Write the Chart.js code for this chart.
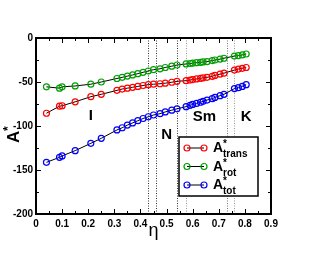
<!DOCTYPE html>
<html>
<head>
<meta charset="utf-8">
<script src="https://cdn.jsdelivr.net/npm/chart.js@4.4.1/dist/chart.umd.min.js"></script>
<style>
  html, body { margin: 0; padding: 0; background: #fff; }
  #chart { display: block; }
</style>
</head>
<body>
<canvas id="chart" width="315" height="254"></canvas>
<script>
// packing fraction eta, shared by all three series
const etaValues = [0.04, 0.09, 0.10, 0.15, 0.21, 0.25, 0.31, 0.33, 0.35, 0.37, 0.39, 0.41, 0.43, 0.45,
    0.475, 0.495, 0.52, 0.54, 0.575, 0.59, 0.60, 0.615, 0.63, 0.64, 0.655, 0.675, 0.685, 0.705, 0.72,
    0.76, 0.775, 0.79, 0.805];

const transValues = [-85.5, -77.5, -77, -72.5, -66.7, -64, -59.5, -58, -57, -56, -55, -54, -53, -52.5,
    -52, -51.3, -50.3, -49.2, -48.5, -47.8, -47.2, -46.5, -45.8, -45.2, -44.7, -43.5, -42.5, -41, -40,
    -36.4, -35.3, -34.5, -33.5];

const rotValues = [-55.5, -57, -55.5, -54.5, -52.5, -50, -46, -44.7, -43.3, -42, -40.5, -39, -37.5, -36,
    -35, -33.5, -32, -30.7, -29.5, -29, -28.5, -28, -27.6, -27.2, -26.9, -25.6, -25, -24, -23,
    -20.5, -20, -19.2, -18.2];

const totValues = [-141.3, -135.6, -134, -128, -119.7, -114, -104.5, -102, -99, -96.5, -94, -91.5, -89.5, -87.5,
    -86, -84, -82, -80.5, -78, -76.5, -75.5, -74.3, -73, -72, -70.5, -69, -67.5, -65.5, -64,
    -57.5, -56.5, -55, -53];

const seriesSubs = ['trans', 'rot', 'tot'];
const seriesColors = ['#ff0000', '#00a000', '#0000ff'];

// phase boundaries and phase names
const phaseLines = [0.43, 0.46, 0.54, 0.575, 0.73, 0.76];
const phaseNames = ['I', 'N', 'Sm', 'K'];

const xTickLabels = ['0', '0.1', '0.2', '0.3', '0.4', '0.5', '0.6', '0.7', '0.8', '0.9'];
const yTickLabels = ['-200', '-150', '-100', '-50', '0'];

const FONT = "'Liberation Sans', Arial, sans-serif";

// where the phase names sit (data coords)
const phaseLabelPos = [[0.21, -89], [0.50, -110], [0.645, -90], [0.805, -90]];
const lineShades = ['#333', '#333', '#333', '#999', '#777', '#999'];

function makeSet(values, i) {
    return {
        label: seriesSubs[i],
        data: etaValues.map((x, k) => ({ x: x, y: values[k] })),
        borderColor: '#000',
        borderWidth: 1,
        pointRadius: 3,
        pointBorderWidth: 1.2,
        pointBorderColor: seriesColors[i],
        pointBackgroundColor: 'rgba(0,0,0,0)',
        tension: 0
    };
}

const decorPlugin = {
    id: 'decor',
    beforeDatasetsDraw(chart) {
        const ctx = chart.ctx;
        const xs = chart.scales.x;
        const a = chart.chartArea;
        ctx.save();
        ctx.lineWidth = 1;
        ctx.setLineDash([1, 1.5]);
        phaseLines.forEach((v, i) => {
            const px = Math.round(xs.getPixelForValue(v)) + 0.5;
            ctx.strokeStyle = lineShades[i];
            ctx.beginPath();
            ctx.moveTo(px, a.top);
            ctx.lineTo(px, a.bottom);
            ctx.stroke();
        });
        ctx.restore();
    },
    afterDraw(chart) {
        const ctx = chart.ctx;
        const xs = chart.scales.x;
        const ys = chart.scales.y;
        const a = chart.chartArea;
        ctx.save();

        // frame
        ctx.strokeStyle = '#000';
        ctx.lineWidth = 2;
        ctx.strokeRect(a.left, a.top, a.right - a.left, a.bottom - a.top);

        // inward ticks on all four sides
        ctx.lineWidth = 1;
        ctx.beginPath();
        for (let v = 0.05; v < 0.9; v += 0.05) {
            const px = Math.round(xs.getPixelForValue(v)) + 0.5;
            const len = Math.abs(v * 10 - Math.round(v * 10)) < 0.01 ? 5 : 3;
            ctx.moveTo(px, a.bottom); ctx.lineTo(px, a.bottom - len);
            ctx.moveTo(px, a.top); ctx.lineTo(px, a.top + len);
        }
        for (let v = -175; v < 0; v += 25) {
            const py = Math.round(ys.getPixelForValue(v)) + 0.5;
            const len = v % 50 === 0 ? 5 : 3;
            ctx.moveTo(a.left, py); ctx.lineTo(a.left + len, py);
            ctx.moveTo(a.right, py); ctx.lineTo(a.right - len, py);
        }
        ctx.stroke();

        // phase names
        ctx.fillStyle = '#000';
        ctx.font = 'bold 15px ' + FONT;
        ctx.textAlign = 'center';
        ctx.textBaseline = 'middle';
        phaseNames.forEach((name, i) => {
            ctx.fillText(name, xs.getPixelForValue(phaseLabelPos[i][0]), ys.getPixelForValue(phaseLabelPos[i][1]));
        });

        // y axis title A*
        ctx.save();
        ctx.translate(19, 136);
        ctx.rotate(-Math.PI / 2);
        ctx.textAlign = 'left';
        ctx.textBaseline = 'alphabetic';
        ctx.font = 'bold 17px ' + FONT;
        ctx.fillText('A', -7, 0);
        ctx.font = 'bold 12px ' + FONT;
        ctx.fillText('*', 5, -7);
        ctx.restore();

        // legend box
        const bx = a.left + 143, by = a.top + 99, bw = 79, bh = 59;
        ctx.fillStyle = '#fff';
        ctx.fillRect(bx, by, bw, bh);
        ctx.strokeStyle = '#000';
        ctx.lineWidth = 1.5;
        ctx.strokeRect(bx, by, bw, bh);
        seriesSubs.forEach((sub, i) => {
            const ry = by + 11 + i * 18.5;
            ctx.strokeStyle = '#000';
            ctx.lineWidth = 1;
            ctx.beginPath();
            ctx.moveTo(bx + 8, ry); ctx.lineTo(bx + 25, ry);
            ctx.stroke();
            ctx.strokeStyle = seriesColors[i];
            ctx.lineWidth = 1.2;
            [bx + 8, bx + 25].forEach(cx => {
                ctx.beginPath();
                ctx.arc(cx, ry, 3, 0, Math.PI * 2);
                ctx.stroke();
            });
            ctx.fillStyle = '#000';
            ctx.textAlign = 'left';
            ctx.textBaseline = 'alphabetic';
            ctx.font = 'bold 14px ' + FONT;
            ctx.fillText('A', bx + 34, ry + 4);
            ctx.font = 'bold 10px ' + FONT;
            ctx.fillText('*', bx + 44, ry - 1);
            ctx.fillText(sub, bx + 44, ry + 9);
        });
        ctx.restore();
    }
};

new Chart(document.getElementById('chart'), {
    type: 'line',
    data: {
        datasets: [makeSet(transValues, 0), makeSet(rotValues, 1), makeSet(totValues, 2)]
    },
    options: {
        responsive: false,
        animation: false,
        layout: { padding: { left: 0, right: 44, top: 38, bottom: 0 } },
        plugins: { legend: { display: false }, tooltip: { enabled: false } },
        scales: {
            x: {
                type: 'linear',
                min: 0,
                max: 0.9,
                grid: { display: false, drawTicks: false },
                border: { display: false },
                ticks: {
                    stepSize: 0.1,
                    padding: 4,
                    color: '#000',
                    font: { family: FONT, size: 10, weight: 'bold' },
                    maxRotation: 0,
                    callback: (v, i) => xTickLabels[i]
                },
                title: {
                    display: true,
                    text: 'η',
                    color: '#000',
                    font: { family: FONT, size: 18 },
                    padding: { top: 0, bottom: 12 }
                },
                afterFit: s => { s.height = 40; }
            },
            y: {
                type: 'linear',
                min: -200,
                max: 0,
                grid: { display: false, drawTicks: false },
                border: { display: false },
                ticks: {
                    stepSize: 50,
                    padding: 3,
                    color: '#000',
                    font: { family: FONT, size: 10, weight: 'bold' },
                    callback: (v, i) => yTickLabels[i]
                },
                afterFit: s => { s.width = 36; }
            }
        }
    },
    plugins: [decorPlugin]
});
</script>
</body>
</html>
